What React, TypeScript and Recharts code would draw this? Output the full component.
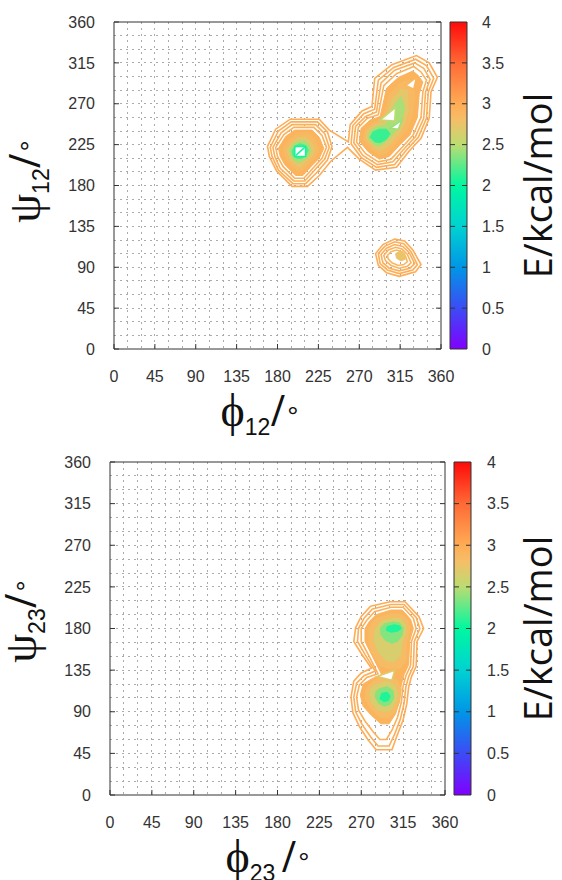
import React from 'react';
import {
  ScatterChart, Scatter, XAxis, YAxis, CartesianGrid, BarChart, Bar, ReferenceLine,
} from 'recharts';

type P = [number, number];
type Ring = { e: number; pts: P[]; fill?: boolean; hole?: boolean };

const ANGLE_TICKS = [0, 45, 90, 135, 180, 225, 270, 315, 360];
const GRID_VALUES = [15, 30, 45, 60, 75, 90, 105, 120, 135, 150, 165, 180, 195, 210, 225, 240, 255, 270, 285, 300, 315, 330, 345];
const E_TICKS = [0, 0.5, 1, 1.5, 2, 2.5, 3, 3.5, 4];
const E_DASHES = [0.5, 1, 1.5, 2, 2.5, 3, 3.5];

// rainbow palette of the colour bar (E in kcal/mol -> colour)
const CMAP: [number, string][] = [
  [0, '#8000ff'], [0.5, '#3c4cf5'], [1, '#0096e6'], [1.5, '#00d2d2'], [2, '#00f8a0'],
  [2.5, '#bcdc72'], [2.8, '#f4bf68'], [3, '#ffac55'], [3.5, '#ff6a35'], [4, '#ff0a0a'],
];

// ---- top panel (phi12 / psi12), contour rings as [phi, psi] ----
const AB_OUT: P[] = [[169, 223], [178, 242], [194, 253], [226, 253], [237, 241], [258, 228], [260, 247], [273, 262], [284, 267], [287, 298], [306, 313], [333, 323], [347, 315], [356, 299], [349, 283], [347, 254], [338, 232], [325, 218], [311, 200], [288, 197], [270, 209], [257, 222], [239, 207], [226, 191], [213, 179], [196, 179], [179, 196], [171, 212]];
const A1: P[] = [[172, 222], [181, 240], [195, 250], [224, 250], [235, 239], [240, 223], [235, 208], [223, 194], [211, 182], [197, 182], [181, 197], [174, 212]];
const A2: P[] = [[175, 222], [184, 238], [196, 247], [222, 247], [232, 237], [237, 222], [232, 209], [221, 197], [210, 185], [198, 185], [183, 199], [177, 212]];
const A3: P[] = [[178, 222], [187, 236], [198, 244], [220, 244], [229, 235], [234, 222], [229, 210], [219, 199], [209, 188], [199, 188], [186, 201], [180, 212]];
const A4: P[] = [[181, 221], [189, 234], [199, 241], [218, 241], [226, 233], [231, 221], [226, 210], [217, 201], [208, 191], [200, 191], [188, 203], [183, 212]];
const A5: P[] = [[186, 220], [193, 231], [201, 237], [215, 237], [222, 230], [226, 220], [222, 211], [215, 204], [207, 196], [201, 196], [192, 205], [188, 212]];
const A6: P[] = [[190, 219], [196, 228], [203, 233], [212, 233], [218, 227], [221, 219], [218, 212], [212, 207], [206, 201], [202, 201], [195, 207], [192, 213]];
const A7: P[] = [[193, 219], [198, 226], [204, 229], [210, 229], [215, 224], [217, 218], [214, 212], [209, 208], [203, 205], [198, 208], [195, 213]];
const A8: P[] = [[196, 218], [200, 224], [205, 226], [211, 224], [214, 219], [211, 213], [207, 210], [201, 210], [197, 213]];
const A_HOLE: P[] = [[199, 212], [199, 223], [211, 223], [211, 212]];
const A_SEAM: P[] = [[200, 213], [210, 222]];

const B1: P[] = [[261, 226], [263, 246], [275, 259], [287, 264], [291, 296], [308, 310], [332, 319], [344, 312], [352, 298], [346, 283], [344, 254], [335, 233], [322, 219], [309, 203], [289, 200], [272, 211]];
const B2: P[] = [[264, 227], [266, 245], [277, 256], [289, 261], [294, 293], [309, 307], [331, 315], [341, 309], [348, 297], [343, 283], [341, 254], [332, 234], [320, 221], [307, 206], [290, 203], [274, 213]];
const B3: P[] = [[267, 228], [269, 244], [279, 254], [291, 258], [297, 290], [311, 303], [330, 311], [338, 305], [344, 296], [340, 283], [338, 255], [329, 235], [318, 223], [305, 209], [291, 206], [277, 215]];
const B4: P[] = [[270, 229], [272, 243], [282, 252], [293, 256], [300, 287], [313, 299], [329, 306], [335, 301], [340, 294], [336, 281], [334, 255], [326, 236], [315, 225], [303, 212], [292, 209], [280, 217]];
const B5: P[] = [[274, 230], [276, 242], [285, 249], [296, 253], [303, 281], [315, 293], [326, 297], [331, 289], [330, 260], [322, 240], [312, 228], [301, 216], [293, 213], [283, 220]];
const B6: P[] = [[277, 231], [279, 241], [287, 247], [298, 250], [306, 275], [316, 286], [323, 285], [324, 262], [318, 243], [309, 231], [299, 221], [292, 218], [285, 223]];
const B7: P[] = [[280, 232], [282, 240], [290, 245], [300, 247], [308, 268], [316, 278], [320, 265], [315, 247], [306, 235], [297, 226], [291, 223], [285, 226]];
const B8: P[] = [[282, 233], [285, 239], [292, 242], [300, 242], [304, 237], [300, 231], [293, 227], [287, 228]];
const B_GAP1: P[] = [[293, 252], [310, 266], [309, 251]];
const B_GAP2: P[] = [[304, 243], [317, 252], [313, 242]];
const B_GAP3: P[] = [[321, 290], [333, 299], [330, 286]];

const C1: P[] = [[288, 105], [296, 115], [309, 121], [320, 119], [329, 109], [338, 93], [332, 85], [314, 80], [300, 84], [291, 92]];
const C2: P[] = [[291, 105], [298, 113], [309, 118], [319, 116], [327, 107], [334, 93], [329, 87], [314, 83], [301, 87], [293, 94]];
const C3: P[] = [[294, 104], [300, 111], [309, 115], [318, 113], [325, 106], [331, 94], [326, 89], [314, 86], [303, 89], [296, 95]];
const C4: P[] = [[297, 103], [302, 109], [310, 112], [317, 110], [323, 104], [327, 95], [323, 91], [314, 89], [305, 92], [299, 97]];
const C5: P[] = [[301, 103], [305, 107], [311, 109], [317, 107], [321, 102], [323, 96], [319, 93], [313, 92], [306, 95], [302, 99]];
const C6: P[] = [[310, 105], [315, 108], [320, 105], [321, 99], [316, 97], [311, 100]];

// ---- bottom panel (phi23 / psi23) ----
const D1: P[] = [[280, 204], [301, 209], [317, 209], [332, 193], [337, 180], [330, 166], [329, 139], [324, 128], [321, 117], [319, 99], [315, 81], [308, 63], [303, 49], [286, 49], [277, 60], [268, 74], [261, 89], [259, 106], [262, 123], [270, 132], [281, 137], [270, 153], [262, 166], [264, 181], [270, 193]];
const D2: P[] = [[282, 201], [302, 206], [316, 206], [329, 192], [333, 180], [327, 166], [326, 139], [321, 128], [318, 117], [316, 99], [312, 82], [306, 66], [300, 53], [288, 53], [280, 63], [271, 76], [264, 90], [262, 106], [265, 121], [273, 129], [285, 134], [274, 152], [266, 166], [267, 180], [273, 191]];
const D3: P[] = [[284, 198], [302, 203], [315, 203], [326, 191], [329, 180], [324, 166], [323, 140], [318, 129], [315, 118], [313, 100], [309, 84], [303, 70], [297, 60], [290, 60], [283, 68], [274, 80], [267, 92], [265, 106], [268, 119], [276, 127], [288, 131], [278, 151], [270, 166], [270, 180], [276, 189]];
const D4: P[] = [[286, 195], [302, 200], [314, 200], [323, 190], [326, 180], [322, 166], [321, 141], [316, 130], [313, 119], [311, 101], [307, 88], [300, 77], [291, 77], [281, 86], [272, 96], [269, 108], [272, 120], [282, 126], [292, 130], [282, 150], [274, 166], [274, 180], [279, 188]];
const U5: P[] = [[288, 192], [302, 196], [313, 196], [321, 188], [322, 178], [319, 166], [318, 145], [312, 137], [300, 136], [290, 140], [282, 152], [278, 166], [278, 179], [282, 187]];
const U6: P[] = [[292, 188], [303, 191], [312, 191], [318, 184], [318, 175], [314, 165], [312, 150], [305, 144], [297, 145], [289, 153], [284, 166], [284, 178]];
const U7: P[] = [[295, 185], [304, 187], [311, 186], [315, 181], [314, 173], [309, 166], [303, 164], [296, 167], [291, 174], [291, 181]];
const U8: P[] = [[298, 182], [305, 184], [311, 183], [313, 180], [309, 177], [302, 176], [297, 178]];
const L5: P[] = [[285, 125], [298, 128], [309, 124], [313, 114], [311, 100], [307, 90], [299, 83], [290, 84], [281, 92], [274, 104], [275, 116]];
const L6: P[] = [[288, 120], [298, 123], [306, 119], [309, 110], [307, 100], [302, 92], [295, 90], [288, 92], [281, 100], [279, 110], [281, 117]];
const L7: P[] = [[290, 115], [298, 117], [304, 113], [305, 105], [301, 98], [295, 96], [289, 99], [285, 106], [286, 112]];
const L8: P[] = [[292, 110], [298, 111], [301, 107], [299, 102], [294, 101], [290, 104]];
const D_GAP: P[] = [[287, 128], [306, 135], [303, 124]];

const TOP_RINGS: Ring[] = [
  { e: 3.0, pts: AB_OUT }, { e: 2.98, pts: A1 }, { e: 2.96, pts: A2 }, { e: 2.94, pts: A3 },
  { e: 2.93, pts: A4, fill: true }, { e: 2.86, pts: A5, fill: true }, { e: 2.72, pts: A6, fill: true },
  { e: 2.45, pts: A7, fill: true }, { e: 2.2, pts: A8, fill: true }, { e: 2.05, pts: A_HOLE, hole: true },
  { e: 2.05, pts: A_SEAM },
  { e: 2.98, pts: B1 }, { e: 2.96, pts: B2 }, { e: 2.94, pts: B3 },
  { e: 2.93, pts: B4, fill: true }, { e: 2.86, pts: B5, fill: true }, { e: 2.72, pts: B6, fill: true },
  { e: 2.45, pts: B7, fill: true }, { e: 2.15, pts: B8, fill: true },
  { e: 2.5, pts: B_GAP1, hole: true }, { e: 2.4, pts: B_GAP2, hole: true }, { e: 2.9, pts: B_GAP3, hole: true },
  { e: 3.0, pts: C1 }, { e: 2.98, pts: C2 }, { e: 2.96, pts: C3 }, { e: 2.94, pts: C4 },
  { e: 2.9, pts: C5 }, { e: 2.75, pts: C6, fill: true },
];

const BOTTOM_RINGS: Ring[] = [
  { e: 3.0, pts: D1 }, { e: 2.98, pts: D2 }, { e: 2.96, pts: D3 }, { e: 2.93, pts: D4, fill: true },
  { e: 2.84, pts: U5, fill: true }, { e: 2.65, pts: U6, fill: true }, { e: 2.35, pts: U7, fill: true }, { e: 2.08, pts: U8, fill: true },
  { e: 2.84, pts: L5, fill: true }, { e: 2.65, pts: L6, fill: true }, { e: 2.35, pts: L7, fill: true }, { e: 2.08, pts: L8, fill: true },
  { e: 2.7, pts: D_GAP, hole: true },
];

const SERIF = "'Liberation Serif', 'DejaVu Serif', serif";
const SANS = "'Liberation Sans', Arial, sans-serif";

function hexToRgb(h: string) {
  const n = parseInt(h.slice(1), 16);
  return [(n >> 16) & 255, (n >> 8) & 255, n & 255];
}

function cmap(e: number) {
  for (let i = 1; i < CMAP.length; i++) {
    const [e1, c1] = CMAP[i];
    const [e0, c0] = CMAP[i - 1];
    if (e <= e1) {
      const t = (e - e0) / (e1 - e0);
      const a = hexToRgb(c0);
      const b = hexToRgb(c1);
      const m = a.map((v, k) => Math.round(v + (b[k] - v) * t));
      return `rgb(${m[0]},${m[1]},${m[2]})`;
    }
  }
  return CMAP[CMAP.length - 1][1];
}

const NoDot = () => <g />;
const NoTick = () => <g />;

function AngleTitle({ x, y, sym, sub, rotate, gap = 0 }: any) {
  return (
    <text
      x={x}
      y={y}
      textAnchor="middle"
      fill="#111"
      transform={rotate ? `rotate(-90, ${x}, ${y})` : undefined}
    >
      <tspan fontFamily={SERIF} fontSize={46}>{sym}</tspan>
      <tspan fontFamily={SANS} fontSize={23} dy={9}>{sub}</tspan>
      <tspan fontFamily={SERIF} fontWeight="bold" fontSize={46} dy={-9} dx={1 + gap}>/</tspan>
      <tspan fontFamily={SANS} fontSize={28} dx={3}>°</tspan>
    </text>
  );
}

function ContourPanel({ rings, sub, left, top, width, height, margin, xShift, yShift, gap }: any) {
  const tickStyle = { fontSize: 16, fill: '#333', fontFamily: SANS };
  return (
    <div style={{ position: 'absolute', left, top }}>
      <ScatterChart width={width} height={height} margin={margin}>
        <CartesianGrid
          stroke="#ababab"
          strokeDasharray="2 4"
          shapeRendering="crispEdges"
          horizontalValues={GRID_VALUES}
          verticalValues={GRID_VALUES}
        />
        <XAxis
          dataKey="x"
          type="number"
          domain={[0, 360]}
          ticks={ANGLE_TICKS}
          interval={0}
          allowDataOverflow
          height={60}
          stroke="#333"
          tickSize={-5}
          tickMargin={27}
          tick={tickStyle}
          label={{
            content: (p: any) => (
              <AngleTitle
                x={p.viewBox.x + p.viewBox.width / 2 + xShift}
                y={p.viewBox.y + 77}
                sym="ϕ"
                sub={sub}
                gap={gap}
              />
            ),
          }}
        />
        <XAxis xAxisId="top" orientation="top" type="number" domain={[0, 360]} ticks={ANGLE_TICKS} interval={0}
          allowDataOverflow height={5} stroke="#333" tickSize={-5} tick={NoTick} />
        <YAxis
          dataKey="y"
          type="number"
          domain={[0, 360]}
          ticks={ANGLE_TICKS}
          interval={0}
          allowDataOverflow
          width={60}
          stroke="#333"
          tickSize={-5}
          tickMargin={24}
          tick={tickStyle}
          label={{
            content: (p: any) => (
              <AngleTitle
                x={p.viewBox.x + p.viewBox.width - 74}
                y={p.viewBox.y + p.viewBox.height / 2 + yShift}
                sym="ψ"
                sub={sub}
                rotate
              />
            ),
          }}
        />
        <YAxis yAxisId="right" orientation="right" type="number" domain={[0, 360]} ticks={ANGLE_TICKS} interval={0}
          allowDataOverflow width={5} stroke="#333" tickSize={-5} tick={NoTick} />
        {rings.map((r: Ring, i: number) => {
          const c = cmap(r.e);
          return (
            <Scatter
              key={i}
              data={r.pts.map(([x, y]) => ({ x, y }))}
              shape={NoDot}
              line={{
                stroke: c,
                strokeWidth: r.fill ? 1 : 1.6,
                fill: r.hole ? '#ffffff' : r.fill ? c : 'none',
              }}
              lineJointType="linearClosed"
              legendType="none"
              isAnimationActive={false}
            />
          );
        })}
      </ScatterChart>
    </div>
  );
}

function ColorBar({ id, left, top, width, height, margin, axisWidth, tickMargin }: any) {
  return (
    <div style={{ position: 'absolute', left, top }}>
      <BarChart width={width} height={height} data={[{ name: 'E', v: 4 }]} margin={margin} barCategoryGap={0}>
        <defs>
          <linearGradient id={id} x1="0" y1="1" x2="0" y2="0">
            {CMAP.map(([e, c]) => (
              <stop key={e} offset={e / 4} stopColor={c} />
            ))}
          </linearGradient>
        </defs>
        <XAxis dataKey="name" hide />
        <YAxis
          type="number"
          domain={[0, 4]}
          ticks={E_TICKS}
          interval={0}
          orientation="right"
          width={axisWidth}
          tickLine={false}
          axisLine={false}
          tickSize={0}
          tickMargin={tickMargin}
          tick={{ fontSize: 16, fill: '#333', fontFamily: SANS }}
        />
        <YAxis
          yAxisId="title"
          orientation="right"
          type="number"
          domain={[0, 4]}
          width={40}
          tick={false}
          tickLine={false}
          axisLine={false}
          label={{
            content: (p: any) => {
              const bx = p.viewBox.x + p.viewBox.width - 10;
              const cy = p.viewBox.y + p.viewBox.height / 2;
              return (
                <text x={bx} y={cy} textAnchor="middle" fontSize={38} fontFamily="'Open Sans', sans-serif"
                  fill="#111" transform={`rotate(-90, ${bx}, ${cy})`}>
                  E/kcal/mol
                </text>
              );
            },
          }}
        />
        <Bar dataKey="v" fill={`url(#${id})`} stroke="#333" strokeWidth={1} isAnimationActive={false} />
        {E_DASHES.map((v) => (
          <ReferenceLine key={v} y={v} stroke="#333" strokeDasharray="5 7" />
        ))}
      </BarChart>
    </div>
  );
}

export default function App() {
  return (
    <div style={{ position: 'absolute', left: 0, top: 0, width: 562, height: 880, background: '#fff', overflow: 'hidden' }}>
      <ContourPanel
        rings={TOP_RINGS}
        sub="12"
        left={0}
        top={0}
        width={470}
        height={440}
        margin={{ top: 17, right: 24, bottom: 31, left: 54 }}
        xShift={-18}
        yShift={-4}
        gap={0}
      />
      <ColorBar
        id="cbTop"
        left={441}
        top={0}
        width={121}
        height={440}
        margin={{ top: 22, right: 0, bottom: 91, left: 9 }}
        axisWidth={55}
        tickMargin={15}
      />
      <ContourPanel
        rings={BOTTOM_RINGS}
        sub="23"
        left={0}
        top={440}
        width={470}
        height={440}
        margin={{ top: 17, right: 20, bottom: 25, left: 50 }}
        xShift={-10}
        yShift={-7}
        gap={6}
      />
      <ColorBar
        id="cbBottom"
        left={445}
        top={440}
        width={117}
        height={440}
        margin={{ top: 22, right: 0, bottom: 85, left: 9 }}
        axisWidth={51}
        tickMargin={16}
      />
    </div>
  );
}
